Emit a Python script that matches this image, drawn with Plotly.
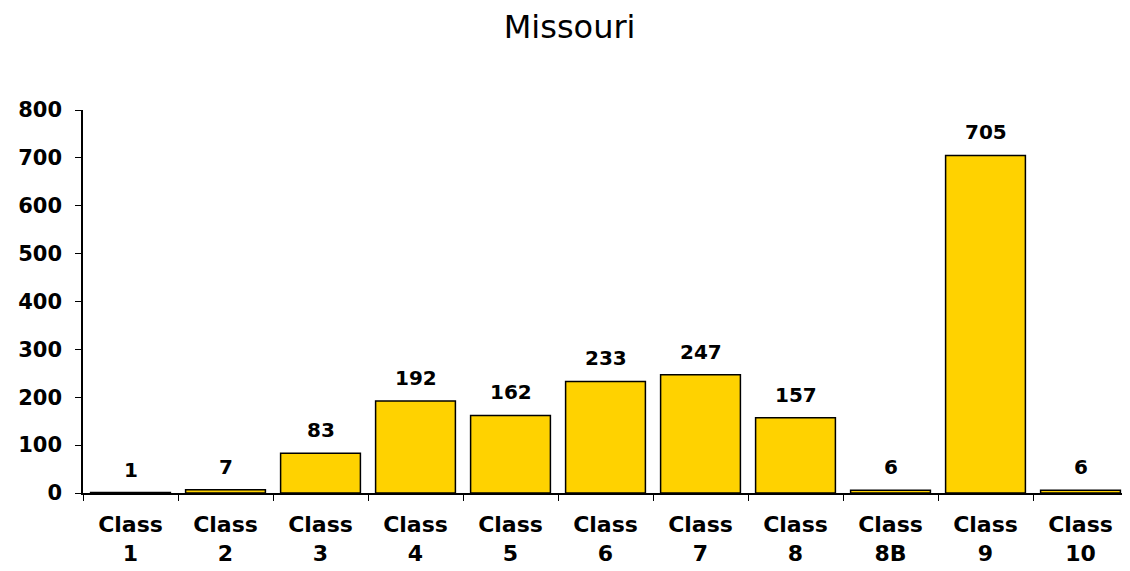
import plotly.graph_objects as go

categories = ["Class<br>1", "Class<br>2", "Class<br>3", "Class<br>4", "Class<br>5",
              "Class<br>6", "Class<br>7", "Class<br>8", "Class<br>8B", "Class<br>9", "Class<br>10"]
values = [1, 7, 83, 192, 162, 233, 247, 157, 6, 705, 6]
y_ticks = [0, 100, 200, 300, 400, 500, 600, 700, 800]

font_family = "DejaVu Sans, Verdana, sans-serif"

fig = go.Figure()
fig.add_trace(go.Bar(
    x=categories, y=values,
    marker=dict(color="#FFD200", line=dict(color="black", width=1.5)),
    width=0.84,
    hoverinfo="skip",
))

for c, v in zip(categories, values):
    fig.add_annotation(x=c, y=v, text=f"<b>{v}</b>", showarrow=False,
                       yanchor="bottom", yshift=9,
                       font=dict(family=font_family, size=20, color="black"))

fig.update_layout(
    width=1130, height=571,
    margin=dict(l=75, r=10, t=102, b=86),
    paper_bgcolor="white", plot_bgcolor="white",
    showlegend=False,
    title=dict(text="Missouri", x=0.497, xanchor="center", xref="container",
               y=0.967, yanchor="middle", yref="container",
               font=dict(family=font_family, size=32, color="black")),
    font=dict(family=font_family, color="black"),
)
fig.update_xaxes(
    type="category", showline=True, linecolor="black", linewidth=1.5,
    ticks="outside", tickson="boundaries", ticklen=6, tickcolor="black",
    tickfont=dict(family=font_family, size=22, color="black", weight="bold"),
    showgrid=False, ticklabelstandoff=11,
)
fig.update_yaxes(
    range=[0, 800], tickvals=y_ticks, showline=True, linecolor="black", linewidth=1.5,
    ticks="outside", ticklen=6, tickcolor="black",
    tickfont=dict(family=font_family, size=21, color="black", weight="bold"),
    showgrid=False, zeroline=False, ticklabelstandoff=9,
)

fig.write_html("out.html")
